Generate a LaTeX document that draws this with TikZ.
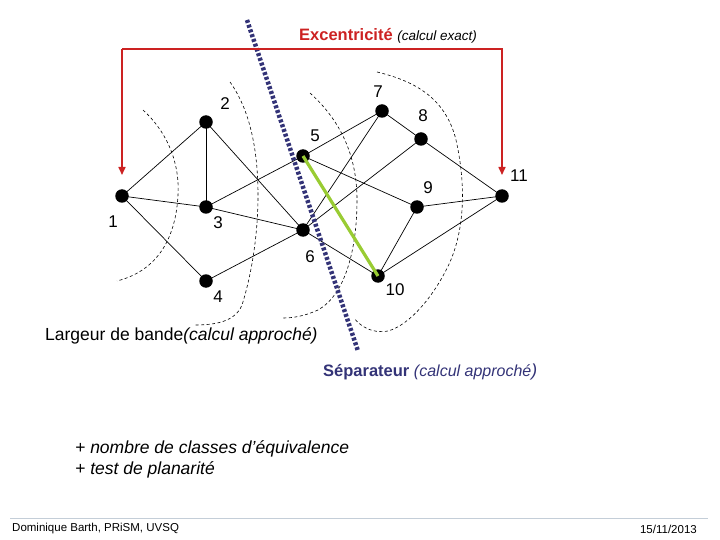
\documentclass[tikz,border=0pt]{standalone}
\usepackage{fontspec}
\setmainfont{Liberation Sans}
\usetikzlibrary{arrows.meta}
\definecolor{exred}{HTML}{CC2222}
\definecolor{sepblue}{HTML}{333377}
\definecolor{sepgreen}{HTML}{99CC33}
\definecolor{footline}{HTML}{C4CED8}
\tikzset{
  vtx/.style={circle,fill=black,inner sep=0pt,minimum size=13.5pt},
  lbl/.style={font=\fontsize{17}{19}\selectfont,inner sep=0pt},
  edge/.style={line width=0.7pt,black},
  zone/.style={line width=0.6pt,dash pattern=on 3pt off 2.5pt},
  redbr/.style={exred,line width=1.6pt},
  txt/.style={inner sep=0pt,anchor=west},
}
\begin{document}
\begin{tikzpicture}[x=1pt,y=-1pt]
\useasboundingbox (0,0) rectangle (720,540);
% dashed zones
\draw[zone] (143,110) .. controls (165,130) and (180,160) .. (178,195) .. controls (176,235) and (160,270) .. (117,281);
\draw[zone] (230,82) .. controls (250,110) and (258,150) .. (258,195) .. controls (258,240) and (250,280) .. (242,305) .. controls (235,322) and (215,325) .. (194,325);
\draw[zone] (310,93) .. controls (340,120) and (357,155) .. (357,200) .. controls (357,250) and (345,295) .. (318,310) .. controls (305,316) and (293,318) .. (283,318);
\draw[zone] (377,72) .. controls (410,80) and (445,95) .. (456,140) .. controls (465,180) and (466,225) .. (450,262) .. controls (435,295) and (410,325) .. (388,331) .. controls (372,334) and (360,326) .. (354,318);
% nodes
\node[vtx] (n1) at (122,196) {};
\node[vtx] (n2) at (206,122) {};
\node[vtx] (n3) at (206,207) {};
\node[vtx] (n4) at (206,281) {};
\node[vtx] (n5) at (303,156) {};
\node[vtx] (n6) at (303,230) {};
\node[vtx] (n7) at (382,111) {};
\node[vtx] (n8) at (421,139) {};
\node[vtx] (n9) at (417,207) {};
\node[vtx] (n10) at (378,276) {};
\node[vtx] (n11) at (502,196) {};
% edges
\foreach \a/\b in {n1/n2,n1/n3,n1/n4,n2/n3,n2/n6,n3/n5,n3/n6,n4/n6,n5/n7,n5/n9,n6/n7,n6/n8,n6/n10,n7/n8,n8/n11,n9/n11,n9/n10,n10/n11}
  \draw[edge] (\a.center) -- (\b.center);
% green edge
\draw[sepgreen,line width=3.2pt] (n5.center) -- (n10.center);
% labels
\node[lbl] (l1) at (113,222) {1};
\node[lbl] (l2) at (225,104) {2};
\node[lbl] (l3) at (218,223) {3};
\node[lbl] (l4) at (218,297) {4};
\node[lbl] (l5) at (315,136) {5};
\node[lbl] (l6) at (310,257) {6};
\node[lbl] (l7) at (378,92) {7};
\node[lbl] (l8) at (423,116) {8};
\node[lbl] (l9) at (428,188) {9};
\node[lbl] (l10) at (395,290) {10};
\node[lbl] (l11) at (519,176) {11};
% separator line
\coordinate (s1) at (247,20);
\coordinate (s2) at (358,351);
\draw[sepblue,line width=4.5pt,dash pattern=on 3pt off 2pt] (s1) -- (s2);
% red bracket
\coordinate (rc1) at (122,49);
\coordinate (rc2) at (502,49);
\coordinate (ra) at (122,175);
\coordinate (rb) at (502,175);
\draw[redbr,-{Triangle[width=7pt,length=8pt]}] (rc1) -- (ra);
\draw[redbr,-{Triangle[width=7pt,length=8pt]}] (rc1) -- (rc2) -- (rb);
% texts
\node[txt] (exc) at (299,36) {\fontsize{16.5}{18}\selectfont\color{exred}\textbf{Excentricité} \fontsize{13.5}{15}\selectfont\color{black}\textit{(calcul exact)}};
\node[txt] (lb) at (45,336) {\fontsize{17.5}{20}\selectfont Largeur de bande\textit{(calcul approché)}};
\node[txt] (sep) at (323,372) {\color{sepblue}\fontsize{16.5}{20}\selectfont\textbf{Séparateur} {\fontsize{16}{18}\selectfont\textit{(calcul approché}}{\fontsize{17.5}{18}\selectfont\textit{)}}};
\node[txt] (plus1) at (75,449) {\fontsize{17.5}{21}\selectfont\textit{+ nombre de classes d'équivalence}};
\node[txt] (plus2) at (75,470) {\fontsize{17.5}{21}\selectfont\textit{+ test de planarité}};
% footer
\coordinate (f1) at (10,518);
\coordinate (f2) at (708,518);
\draw[footline,line width=1pt] (f1) -- (f2);
\node[txt] (fl) at (12,529) {\fontsize{11.5}{13}\selectfont Dominique Barth, PRiSM, UVSQ};
\node[inner sep=0pt,anchor=east] (fr) at (697,529) {\fontsize{11.5}{13}\selectfont 15/11/2013};
\end{tikzpicture}
\end{document}
